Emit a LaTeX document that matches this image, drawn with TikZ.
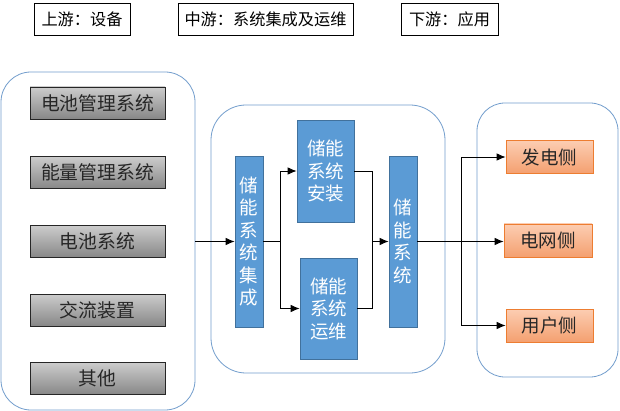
\documentclass[tikz,border=0pt]{standalone}
\usepackage{fontspec}
\newfontfamily\cjk{Noto Sans CJK SC}
\usetikzlibrary{arrows.meta,calc}
\definecolor{contb}{RGB}{115,158,205}
\definecolor{bluef}{RGB}{91,155,213}
\definecolor{blueb}{RGB}{65,113,156}
\definecolor{orb}{RGB}{237,125,49}
\tikzset{
  lbl/.style={draw=black,line width=0.9pt,font=\cjk\fontsize{16.2}{18}\selectfont,inner sep=0pt,minimum height=32pt},
  cont/.style={draw=contb,line width=0.8pt,rounded corners=30pt,inner sep=0pt},
  graybox/.style={draw=black!85,line width=0.9pt,top color=black!20,bottom color=black!47,font=\cjk\fontsize{18.8}{20}\selectfont,minimum width=135pt,minimum height=32pt,inner sep=0pt,text=black!85},
  bluebox/.style={draw=blueb,line width=0.7pt,fill=bluef,text=white,font=\cjk\fontsize{18.5}{22.5}\selectfont,align=center,inner sep=0pt},
  orbox/.style={draw=orb,line width=0.7pt,top color={rgb,255:red,252;green,205;blue,178},bottom color={rgb,255:red,244;green,160;blue,112},font=\cjk\fontsize{18.5}{20}\selectfont,minimum width=87pt,minimum height=33pt,inner sep=0pt,text=black!85},
  arr/.style={draw=black,line width=0.8pt,-{Latex[length=9pt,width=7.5pt]}},
  ln/.style={draw=black,line width=0.8pt}
}
\begin{document}
\begin{tikzpicture}[x=1pt,y=-1pt]
\useasboundingbox[fill=white] (0,0) rectangle (620,411);
% top labels
\node[lbl,minimum width=96pt] (t1) at (82,19) {上游：设备};
\node[lbl,minimum width=175pt] (t2) at (265.5,19) {中游：系统集成及运维};
\node[lbl,minimum width=97pt] (t3) at (449.5,19) {下游：应用};
% containers
\node[cont,minimum width=194pt,minimum height=338pt] (lc) at (98,241) {};
\node[cont,rounded corners=35pt,minimum width=234pt,minimum height=268pt] (mc) at (328,239) {};
\node[cont,rounded corners=28pt,minimum width=141pt,minimum height=274pt] (rc) at (547.5,240) {};
% left boxes
\node[graybox] (b1) at (97.5,103) {电池管理系统};
\node[graybox] (b2) at (97.5,172.5) {能量管理系统};
\node[graybox] (b3) at (97.5,241.5) {电池系统};
\node[graybox] (b4) at (97.5,310) {交流装置};
\node[graybox] (b5) at (97.5,378.5) {其他};
% middle boxes
\node[bluebox,minimum width=28pt,minimum height=171pt] (intg) at (249,241.5) {储\\能\\系\\统\\集\\成};
\node[bluebox,minimum width=57pt,minimum height=102pt] (inst) at (325.5,171) {储能\\系统\\安装};
\node[bluebox,minimum width=57pt,minimum height=101pt] (om) at (328.5,308.5) {储能\\系统\\运维};
\node[bluebox,minimum width=28pt,minimum height=171pt] (sys) at (403,241.5) {储\\能\\系\\统};
% right boxes
\node[orbox] (gen) at (549.5,157) {发电侧};
\node[orbox,minimum width=88pt] (grid) at (548,240.5) {电网侧};
\node[orbox] (user) at (549.5,325.5) {用户侧};
% connectors
\coordinate (s1) at (280,241.5);
\coordinate (j1) at (372,241.5);
\coordinate (s2) at (461,241.5);
\draw[arr] (lc.east |- intg.west) -- (intg.west);
\draw[ln] (intg.east) -- (s1);
\draw[arr] (s1) |- (inst.west);
\draw[arr] (s1) |- (om.west);
\draw[ln] (inst.east) -| (j1);
\draw[ln] (om.east) -| (j1);
\draw[arr] (j1) -- (sys.west);
\draw[arr] (sys.east) -- (sys.east -| grid.west);
\draw[arr] (s2) |- (gen.west);
\draw[arr] (s2) |- (user.west);
\end{tikzpicture}
\end{document}
